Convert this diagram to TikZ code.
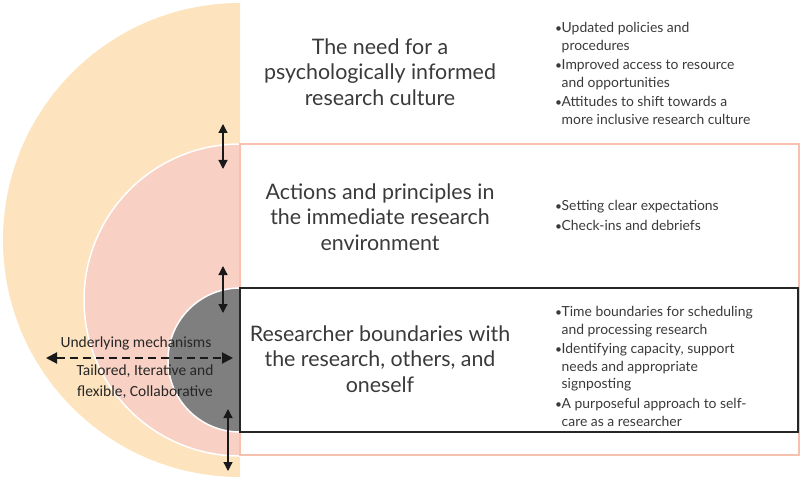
\documentclass[tikz,border=0pt]{standalone}
\usepackage{fontspec}
\setmainfont{Lato}
\newfontfamily\carl{Carlito}
\usetikzlibrary{arrows.meta}
\definecolor{outerc}{HTML}{FDE4BF}
\definecolor{midc}{HTML}{F9D1C4}
\definecolor{midedge}{HTML}{F6C1AE}
\definecolor{innerc}{HTML}{7F7F7F}
\definecolor{txt}{HTML}{3A3A3A}
\tikzset{
  title/.style={align=center, font=\fontsize{21.4}{25.5}\selectfont, text=txt, inner sep=0pt},
  blist/.style={align=left, anchor=north west, font=\fontsize{13.9}{17.7}\selectfont, text=txt, inner sep=0pt},
  mech/.style={align=center, font=\carl\fontsize{15.5}{21}\selectfont, text=black!85, inner sep=0pt},
  varrow/.style={{Triangle[length=9pt,width=9pt]}-{Triangle[length=9pt,width=9pt]}, line width=1.3pt, black!90},
  darrow/.style={{Triangle[length=11pt,width=11pt]}-{Triangle[length=11pt,width=11pt]}, line width=2pt, black!90, dash pattern=on 8pt off 5pt},
}
\newcommand{\bl}{\makebox[6.5pt][l]{\raisebox{0.3pt}{\fontsize{12}{12}\selectfont\textbullet}}}
\newcommand{\ind}{\hspace*{6.5pt}}
\begin{document}
\begin{tikzpicture}[x=1pt,y=-1pt]
\useasboundingbox (0,0) rectangle (800,481);
% outer half disc
\begin{scope}
\clip (0,0) rectangle (240,481);
\fill[outerc] (240,240) circle[radius=237];
\end{scope}
% middle half disc
\begin{scope}
\clip (0,0) rectangle (240,481);
\filldraw[fill=midc, draw=white, line width=1.5pt] (240,300) circle[radius=156];
\end{scope}
\draw[midedge, line width=1.4pt] (240,144) rectangle (799,455);
% inner half disc
\begin{scope}
\clip (0,0) rectangle (240,481);
\filldraw[fill=innerc, draw=white, line width=1.5pt] (240,360) circle[radius=72];
\end{scope}
\draw[black!85, line width=1.3pt] (240,288) rectangle (798,432);

% titles
\node[title] (t1) at (380,72) {The need for a\\psychologically informed\\research culture};
\node[title] (t2) at (380,217) {Actions and principles in\\the immediate research\\environment};
\node[title] (t3) at (380,359) {Researcher boundaries with\\the research, others, and\\oneself};

% bullet lists
\node[blist] (b1) at (555,22) {\bl Updated policies and\\\ind procedures};
\node[blist] (b2) at (555,59) {\bl Improved access to resource\\\ind and opportunities};
\node[blist] (b3) at (555,96) {\bl Attitudes to shift towards a\\\ind more inclusive research culture};
\node[blist] (b4) at (555,200) {\bl Setting clear expectations};
\node[blist] (b5) at (555,220) {\bl Check-ins and debriefs};
\node[blist] (b6) at (555,306) {\bl Time boundaries for scheduling\\\ind and processing research};
\node[blist] (b7) at (555,343) {\bl Identifying capacity, support\\\ind needs and appropriate\\\ind signposting};
\node[blist] (b8) at (555,398) {\bl A purposeful approach to self-\\\ind care as a researcher};

% mechanisms text
\node[mech] (m1) at (136,343) {Underlying mechanisms};
\node[mech] (m2) at (145,382) {Tailored, Iterative and\\flexible, Collaborative};

% arrows
\coordinate (a1s) at (223,124);
\coordinate (a1e) at (223,169);
\coordinate (a2s) at (223,266);
\coordinate (a2e) at (223,313);
\coordinate (a3s) at (228,409);
\coordinate (a3e) at (228,471);
\coordinate (dl) at (46,358);
\coordinate (dr) at (233,358);
\draw[varrow] (a1s) -- (a1e);
\draw[varrow] (a2s) -- (a2e);
\draw[varrow] (a3s) -- (a3e);
\draw[darrow] (dl) -- (dr);
\end{tikzpicture}
\end{document}
